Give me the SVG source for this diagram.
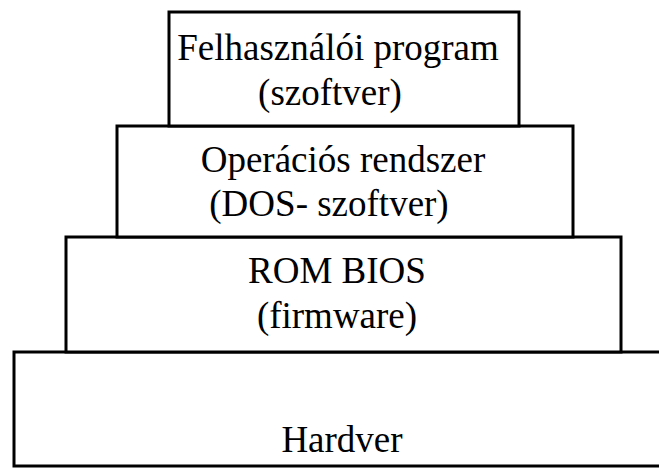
<svg xmlns="http://www.w3.org/2000/svg" width="659" height="470" viewBox="0 0 659 470">
  <style>
    .layer { fill: #ffffff; stroke: #000000; stroke-width: 3; }
    .label { font-family: "Liberation Serif", "Times New Roman", serif; font-size: 37px; fill: #000000; text-anchor: middle; }
  </style>
  <rect width="659" height="470" fill="#ffffff"/>

  <!-- Hardware layer (bottom, runs past the right edge) -->
  <g id="hardver">
    <rect class="layer" x="14" y="352" width="660" height="114"/>
    <text class="label" x="342" y="452">Hardver</text>
  </g>

  <!-- ROM BIOS layer -->
  <g id="rom-bios">
    <rect class="layer" x="66" y="237" width="555" height="115"/>
    <text class="label" x="337" y="283">ROM BIOS</text>
    <text class="label" x="337" y="328">(firmware)</text>
  </g>

  <!-- Operating system layer -->
  <g id="operacios-rendszer">
    <rect class="layer" x="117" y="126" width="456" height="111"/>
    <text class="label" x="343" y="172">Operációs rendszer</text>
    <text class="label" x="329" y="216">(DOS- szoftver)</text>
  </g>

  <!-- User program layer (top) -->
  <g id="felhasznaloi-program">
    <rect class="layer" x="169" y="12" width="350" height="114"/>
    <text class="label" x="338" y="60">Felhasználói program</text>
    <text class="label" x="330" y="105">(szoftver)</text>
  </g>

  <!-- No connectors: layers touch directly -->
  <g id="connectors"/>
</svg>
